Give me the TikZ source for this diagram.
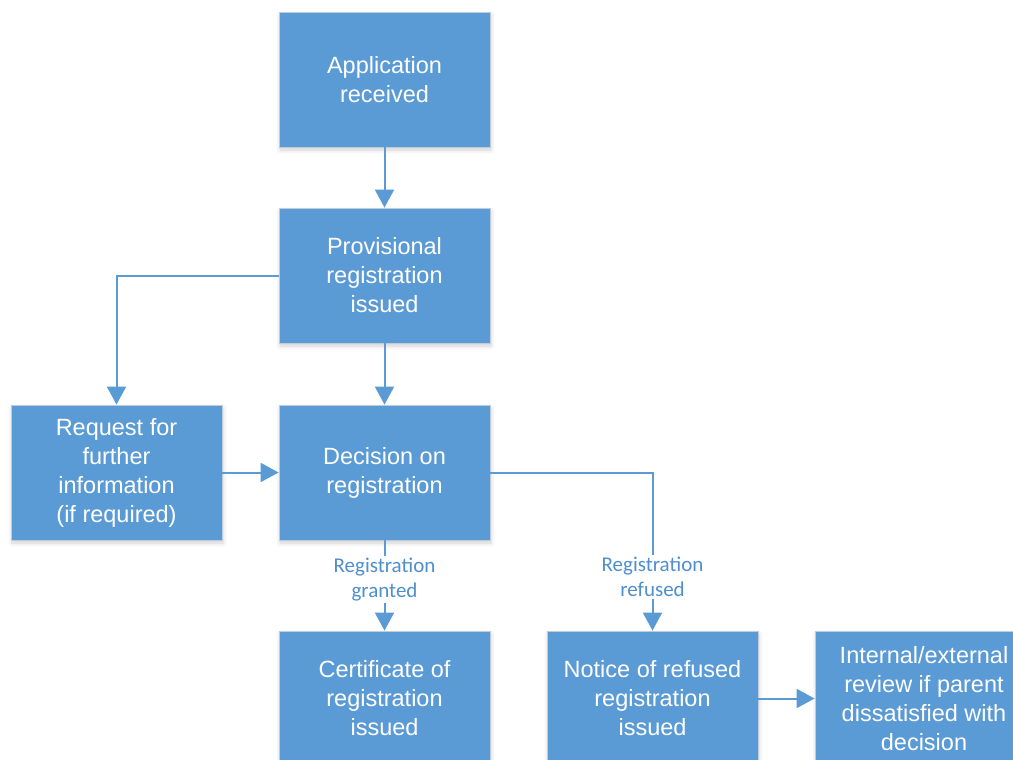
\documentclass[tikz,border=0pt]{standalone}
\usepackage{fontspec}
\setmainfont{Liberation Sans}
\newfontfamily\labelfont{Carlito}
\usetikzlibrary{arrows.meta,shadows.blur}
\definecolor{boxblue}{HTML}{5B9BD5}
\definecolor{boxedge}{HTML}{BFCCDA}
\definecolor{lblblue}{HTML}{4F8FCC}
\begin{document}
\begin{tikzpicture}[x=1pt, y=-1pt,
        stagebox/.style={draw=boxedge, line width=0.8pt, fill=boxblue, text=white,
            minimum width=211pt, minimum height=135pt, align=center, inner sep=2pt,
            font=\fontsize{23.5}{29}\selectfont,
            blur shadow={shadow xshift=1pt, shadow yshift=-3pt, shadow blur radius=4pt, shadow opacity=18}},
        flow/.style={draw=boxblue, line width=2pt, -{Triangle[width=19pt, length=18pt]}},
        outcome/.style={fill=white, text=lblblue, align=center, inner sep=2pt,
            font=\labelfont\fontsize{21}{25}\selectfont}]
        \clip (0,0) rectangle (1013,760);

        \node[stagebox] (app) at (384.5,79.5) {Application\\received};
        \node[stagebox] (prov) at (384.5,275.5) {Provisional\\registration\\issued};
        \node[stagebox] (req) at (116.5,472.5) {Request for\\further\\information\\(if required)};
        \node[stagebox] (dec) at (384.5,472.5) {Decision on\\registration};
        \node[stagebox] (cert) at (384.5,698.5) {Certificate of\\registration\\issued};
        \node[stagebox] (notice) at (652.5,698.5) {Notice of refused\\registration\\issued};
        \node[stagebox, minimum width=218pt] (review) at (924,698.5) {Internal/external\\review if parent\\dissatisfied with\\decision};

        \draw[flow] (app) -- (prov);
        \draw[flow] (prov.west) -| (req.north);
        \draw[flow] (prov) -- (dec);
        \draw[flow] (req) -- (dec);
        \draw[flow] (dec) -- node[outcome, pos=0.43] {Registration\\granted} (cert);
        \draw[flow] (dec.east) -| node[outcome, pos=0.83] {Registration\\refused} (notice.north);
        \draw[flow] (notice) -- (review);

    \end{tikzpicture}
\end{document}
